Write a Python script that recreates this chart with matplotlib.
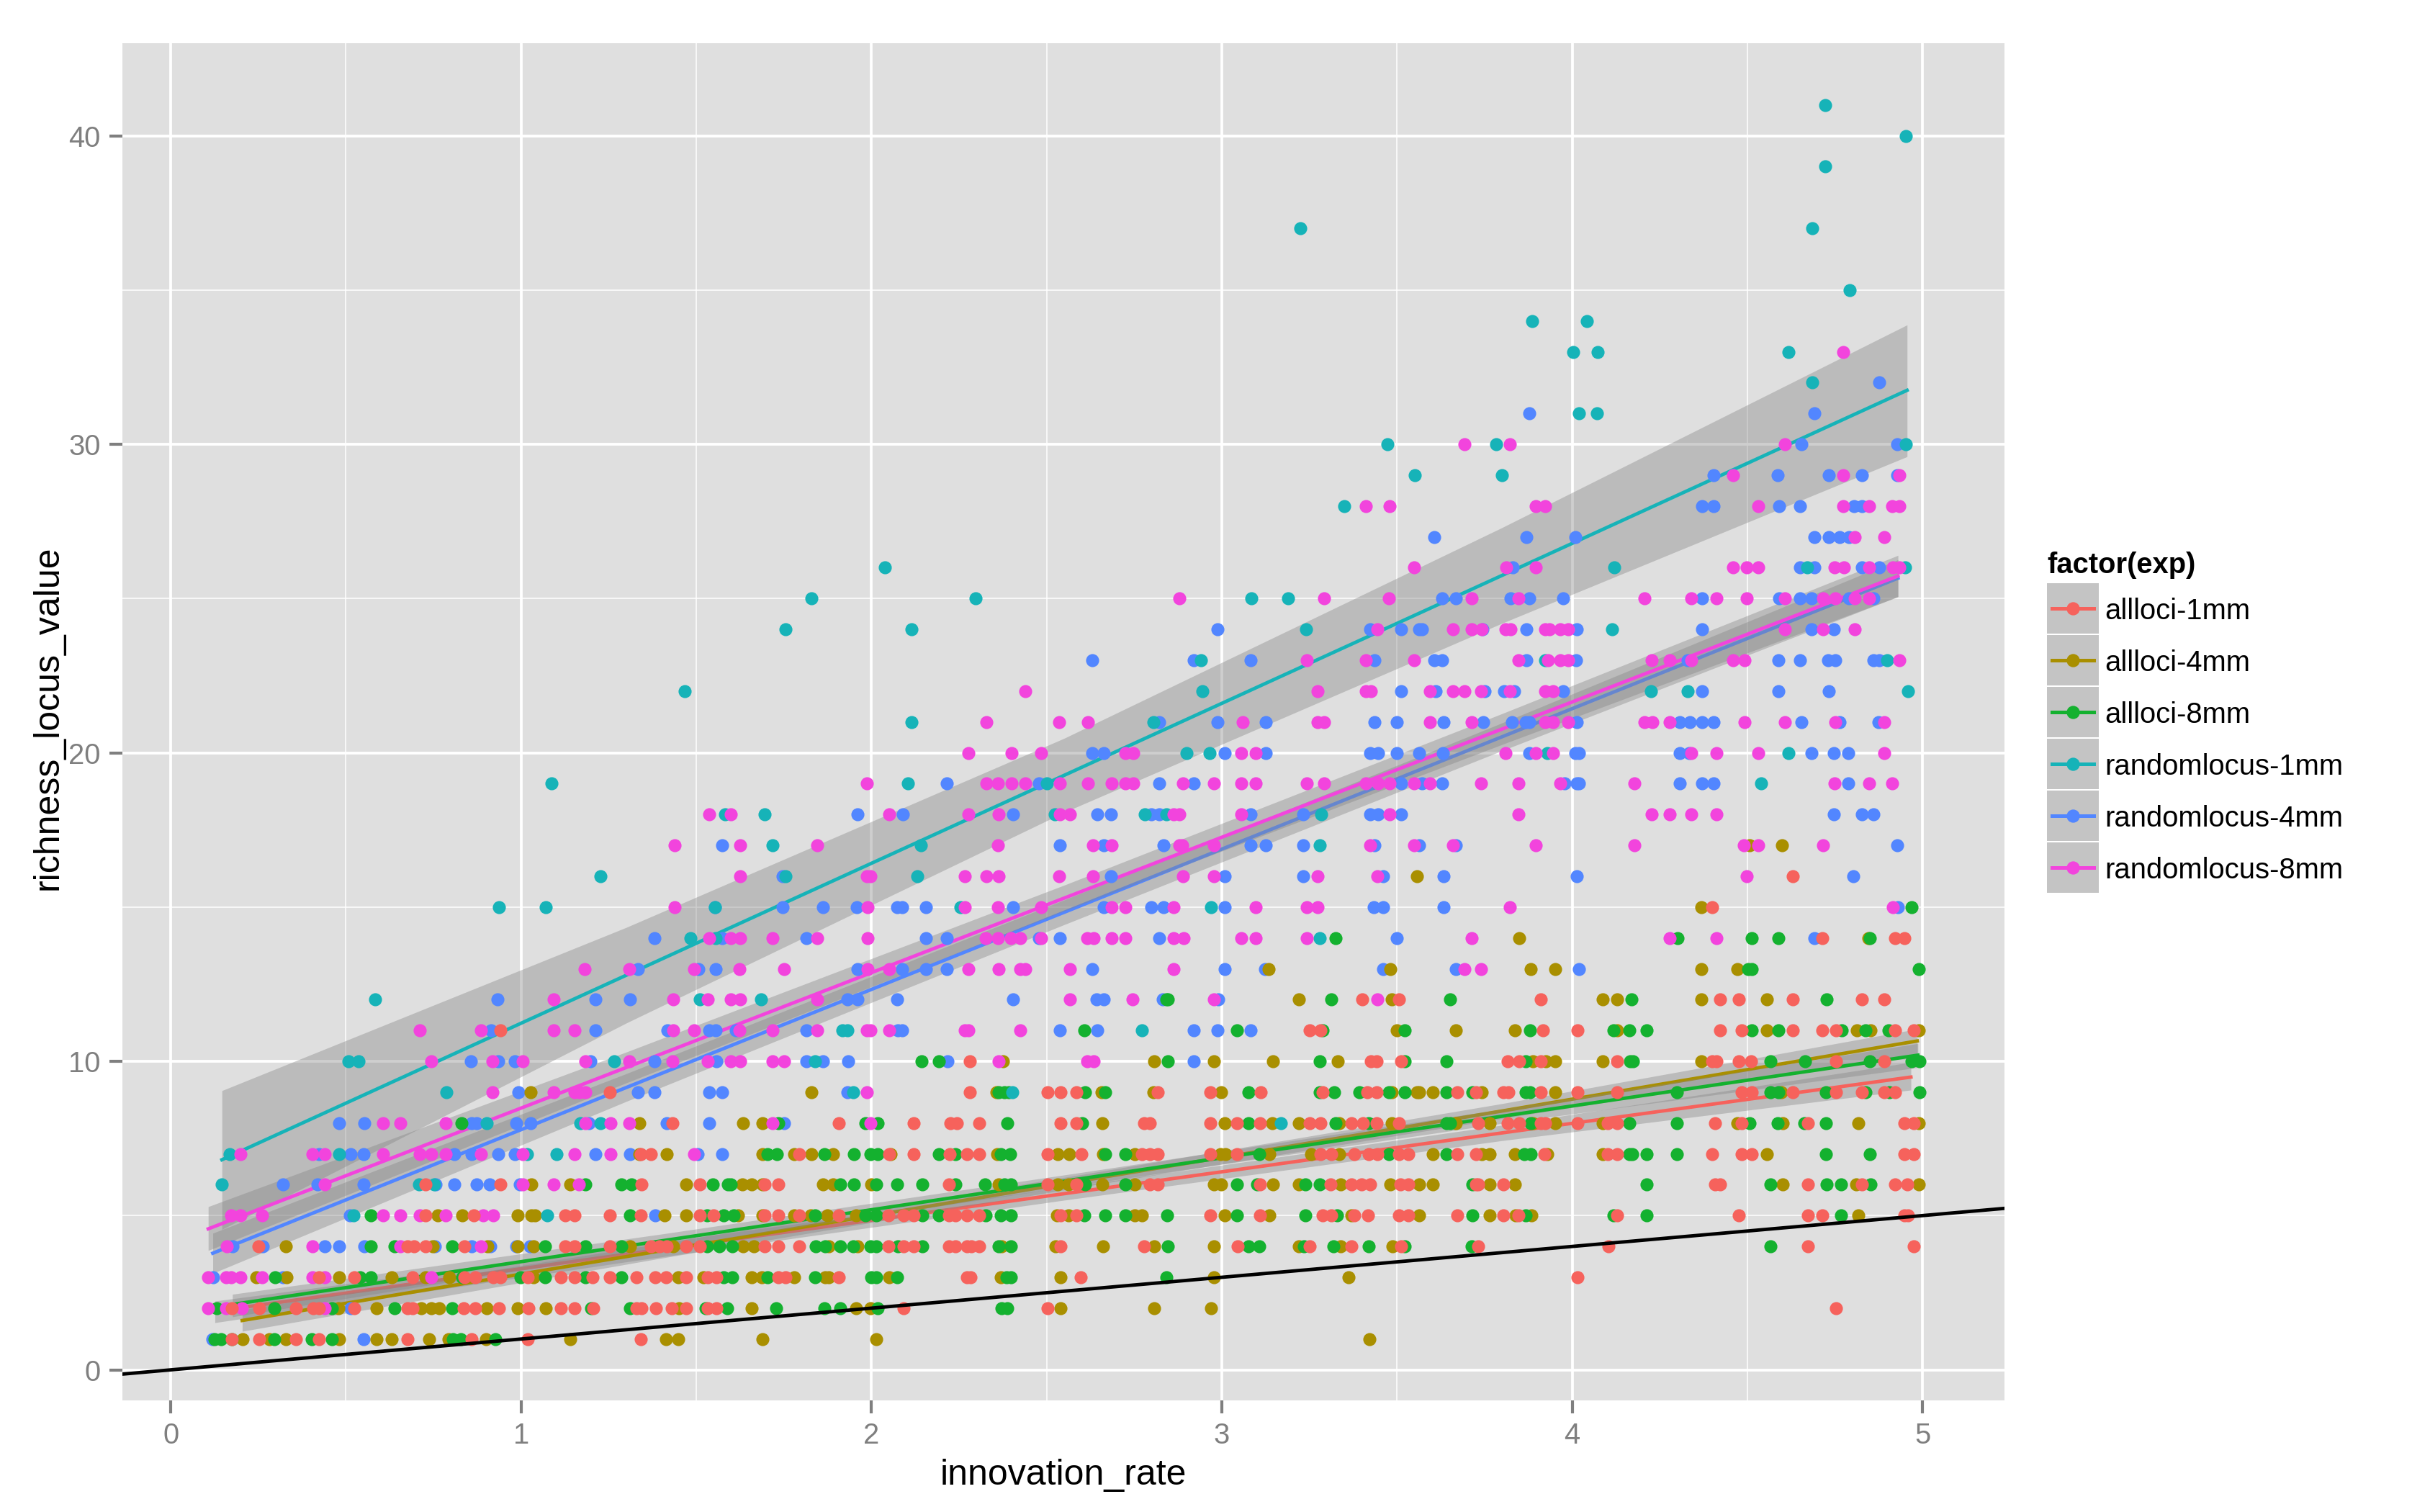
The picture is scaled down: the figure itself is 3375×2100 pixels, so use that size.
import numpy as np
import matplotlib

matplotlib.use("Agg")
import matplotlib.pyplot as plt
from matplotlib.patches import Rectangle
from matplotlib.lines import Line2D

plt.rcParams["font.family"] = ["Liberation Sans", "DejaVu Sans"]

# points: outer index is richness value - 1, inner lists are innovation_rate
allloci_1mm = [
    [.174, .252, .358, .423, .675, .858, 1.020, 1.341],
    [.174, .252, .358, .406, .423, .524, .675, .691, .836, .868, .937, 1.022, 1.114, 1.153, 1.205, 1.330, 1.343, 1.385, 1.431, 1.471, 1.533, 1.557, 2.091, 2.502, 4.754],
    [.423, .524, .691, .839, .869, .921, .940, 1.020, 1.114, 1.153, 1.203, 1.253, 1.330, 1.383, 1.413, 1.471, 1.533, 1.557, 1.734, 1.754, 1.907, 2.273, 2.282, 2.598, 4.016],
    [.250, .675, .695, .727, .839, 1.125, 1.153, 1.253, 1.370, 1.396, 1.415, 1.471, 1.510, 1.695, 1.734, 1.793, 2.049, 2.091, 2.120, 2.222, 2.240, 2.273, 2.285, 2.308, 2.540, 2.778, 3.046, 3.250, 3.371, 3.512, 3.731, 4.103, 4.673, 4.976],
    [.727, .865, 1.125, 1.153, 1.253, 1.341, 1.510, 1.550, 1.695, 1.734, 1.793, 1.907, 2.049, 2.091, 2.120, 2.222, 2.240, 2.273, 2.308, 2.540, 2.586, 2.967, 3.109, 3.287, 3.313, 3.379, 3.418, 3.505, 3.533, 3.672, 3.804, 3.846, 4.129, 4.476, 4.673, 4.714, 4.948, 4.958],
    [.727, .940, 1.343, 1.510, 1.695, 1.734, 2.222, 2.502, 2.586, 2.794, 2.818, 3.110, 3.311, 3.371, 3.399, 3.423, 3.509, 3.533, 3.726, 3.731, 3.804, 4.408, 4.423, 4.673, 4.827, 4.921, 4.956],
    [1.341, 1.370, 1.793, 2.051, 2.120, 2.224, 2.273, 2.308, 2.502, 2.600, 2.773, 2.794, 2.818, 2.967, 3.044, 3.282, 3.313, 3.379, 3.420, 3.444, 3.505, 3.533, 3.672, 3.726, 3.920, 4.101, 4.129, 4.400, 4.484, 4.512, 4.948, 4.976],
    [1.433, 1.907, 2.120, 2.225, 2.243, 2.308, 2.540, 2.586, 2.778, 2.794, 2.967, 3.044, 3.110, 3.250, 3.282, 3.371, 3.402, 3.441, 3.505, 3.731, 3.815, 3.848, 3.911, 3.922, 4.016, 4.101, 4.129, 4.408, 4.484, 4.673, 4.948, 4.976],
    [1.253, 2.281, 2.502, 2.540, 2.585, 2.818, 2.967, 3.111, 3.287, 3.416, 3.442, 3.672, 3.726, 3.804, 3.818, 3.911, 4.016, 4.129, 4.484, 4.512, 4.630, 4.754, 4.827, 4.891, 4.921],
    [2.281, 3.425, 3.442, 3.512, 3.815, 3.848, 3.911, 4.129, 4.400, 4.411, 4.476, 4.510, 4.754, 4.891],
    [.940, 3.250, 3.282, 3.917, 4.016, 4.423, 4.484, 4.630, 4.714, 4.754, 4.921, 4.976],
    [3.401, 3.505, 3.911, 4.423, 4.476, 4.630, 4.827, 4.891],
    [],
    [4.714, 4.921, 4.948],
    [4.400],
    [4.630],
]
allloci_4mm = [
    [.206, .282, .328, .481, .587, .630, .738, .793, .900, 1.140, 1.414, 1.448, 1.688, 2.013, 3.421],
    [.478, .587, .714, .743, .767, .902, .990, 1.071, 1.451, 1.658, 1.957, 1.998, 2.540, 2.806, 2.969],
    [.245, .330, .481, .630, .727, .796, 1.035, 1.448, 1.520, 1.658, 1.687, 1.780, 1.868, 1.878, 2.051, 2.369, 2.540, 2.977, 3.362],
    [.329, .747, .904, .990, 1.035, 1.311, 1.435, 1.634, 1.664, 1.878, 1.960, 2.371, 2.526, 2.661, 2.806, 2.977, 3.220, 3.339, 3.488],
    [.763, .832, .990, 1.029, 1.039, 1.409, 1.471, 1.619, 1.688, 1.780, 1.826, 1.874, 1.957, 2.530, 2.563, 2.752, 2.773, 3.009, 3.135, 3.371, 3.563, 3.765, 3.838, 3.883, 4.817],
    [1.029, 1.140, 1.471, 1.632, 1.658, 1.688, 1.862, 1.891, 2.000, 2.364, 2.532, 2.563, 2.660, 2.752, 2.977, 2.998, 3.147, 3.219, 3.339, 3.481, 3.563, 3.602, 3.765, 3.836, 4.601, 4.811, 4.990],
    [1.337, 1.415, 1.688, 1.780, 1.828, 1.891, 2.055, 2.359, 2.532, 2.565, 2.661, 2.752, 2.996, 3.011, 3.135, 3.255, 3.336, 3.602, 3.741, 3.765, 3.836, 3.928, 4.088, 4.555],
    [1.337, 1.634, 1.688, 2.659, 3.009, 3.145, 3.219, 3.336, 3.486, 3.668, 3.765, 3.888, 3.951, 4.088, 4.471, 4.601, 4.817, 4.990],
    [1.028, 1.828, 2.356, 2.657, 2.804, 2.998, 3.486, 3.558, 3.563, 3.602, 3.741, 3.951, 4.596],
    [2.376, 2.806, 2.977, 3.147, 3.332, 3.888, 3.925, 3.951, 4.088, 4.368],
    [3.500, 3.667, 3.836, 4.129, 4.555, 4.813, 4.851, 4.990],
    [3.220, 3.486, 4.088, 4.129, 4.368, 4.555],
    [3.133, 3.481, 3.881, 3.951, 4.368, 4.471],
    [3.849, 4.845],
    [4.368],
    [3.558],
    [4.507, 4.599],
]
allloci_8mm = [
    [.125, .144, .174, .295, .402, .461, .806, .828, .927],
    [.131, .295, .461, .638, .803, 1.199, 1.311, 1.527, 1.588, 1.727, 1.865, 1.911, 2.018, 2.372, 2.387],
    [.298, .541, .571, .832, .999, 1.068, 1.183, 1.287, 1.579, 1.603, 1.704, 1.839, 2.000, 2.014, 2.073, 2.385, 2.397, 2.842],
    [.571, .638, .803, 1.068, 1.183, 1.287, 1.531, 1.566, 1.603, 1.841, 1.868, 1.911, 1.947, 1.997, 2.014, 2.075, 2.146, 2.364, 2.397, 2.846, 3.077, 3.108, 3.234, 3.318, 3.419, 3.523, 3.713, 4.567],
    [.571, 1.311, 1.531, 1.579, 1.606, 1.839, 1.983, 2.014, 2.146, 2.193, 2.327, 2.369, 2.397, 2.607, 2.667, 2.724, 2.844, 3.044, 3.238, 3.329, 3.715, 3.867, 4.119, 4.213, 4.767],
    [1.183, 1.287, 1.315, 1.547, 1.590, 1.599, 1.911, 1.949, 2.014, 2.073, 2.146, 2.240, 2.325, 2.380, 2.397, 2.610, 2.724, 3.044, 3.101, 3.238, 3.280, 3.715, 4.213, 4.567, 4.727, 4.767, 4.851],
    [1.704, 1.730, 1.865, 1.949, 1.997, 2.018, 2.193, 2.240, 2.369, 2.395, 2.667, 2.724, 3.108, 3.476, 3.642, 3.864, 3.881, 4.164, 4.171, 4.213, 4.298, 4.725, 4.850],
    [.830, 1.734, 1.983, 2.018, 2.387, 2.602, 3.077, 3.324, 3.420, 3.642, 3.652, 3.881, 4.164, 4.298, 4.507, 4.586, 4.662, 4.725],
    [2.364, 2.380, 2.392, 2.610, 2.667, 3.077, 3.280, 3.320, 3.392, 3.476, 3.523, 3.642, 3.715, 3.867, 3.880, 4.298, 4.567, 4.589, 4.725, 4.838, 4.906, 4.992],
    [2.144, 2.193, 2.846, 3.280, 3.523, 3.642, 3.867, 4.166, 4.174, 4.567, 4.664, 4.850, 4.969, 4.992],
    [2.608, 3.043, 3.288, 3.523, 3.880, 4.119, 4.164, 4.213, 4.512, 4.588, 4.769, 4.838, 4.904],
    [2.841, 2.846, 3.313, 3.652, 4.169, 4.727],
    [4.502, 4.512, 4.990],
    [3.324, 4.300, 4.512, 4.588, 4.850],
    [4.969],
]
randomlocus_1mm = [
    [], [], [], [],
    [.522, 1.075],
    [.145, .708, .751],
    [.168, .481, 1.016, 1.102],
    [.902, 1.169, 1.227, 3.168],
    [.786, 1.947, 2.403],
    [.507, .537, 1.265, 1.839],
    [1.917, 1.931, 2.771],
    [.583, 1.511, 1.684],
    [],
    [1.484, 1.556, 3.280],
    [.937, 1.071, 1.553, 2.254, 2.970],
    [1.227, 1.755, 2.131],
    [1.718, 2.141, 3.280],
    [1.583, 1.696, 2.524, 2.781, 2.841, 3.284],
    [1.086, 2.105, 2.501, 4.539],
    [2.899, 2.965, 3.928, 4.617],
    [2.115, 2.804],
    [1.468, 2.944, 4.225, 4.329, 4.959],
    [2.941, 3.922, 4.900],
    [1.755, 2.115, 3.240, 4.115],
    [1.828, 2.298, 3.084, 3.190],
    [2.039, 4.121, 4.671, 4.951],
    [],
    [3.350],
    [3.550, 3.799],
    [3.472, 3.783, 4.952],
    [4.019, 4.070],
    [4.685],
    [4.004, 4.072, 4.617],
    [3.885, 4.042],
    [4.792],
    [],
    [3.225, 4.685],
    [],
    [4.722],
    [4.952],
    [4.722],
]
randomlocus_4mm = [
    [.118, .550],
    [.514],
    [.121, .321],
    [.177, .263, .440, .481, .553, .754, .858, .913, .987, 1.026],
    [.511, 1.383],
    [.321, .419, .550, .756, .809, .874, .911, .996],
    [.423, .514, .550, .809, .858, .934, .983, 1.212, 1.311, 1.503, 1.573],
    [.481, .553, .858, .874, .986, 1.028, 1.193, 1.415, 1.537, 1.750],
    [.992, 1.333, 1.380, 1.537, 1.573, 1.931],
    [.856, .934, .983, 1.197, 1.380, 1.557, 1.815, 1.861, 1.933, 2.217, 2.920],
    [.915, 1.212, 1.418, 1.536, 1.556, 1.612, 1.815, 2.075, 2.088, 2.537, 2.644, 2.920, 2.988, 3.082],
    [.933, 1.212, 1.311, 1.931, 1.960, 2.073, 2.404, 2.642, 2.663, 2.831, 2.990],
    [1.334, 1.506, 1.556, 1.960, 2.088, 2.155, 2.215, 2.631, 3.009, 3.124, 3.460, 3.668, 4.020],
    [1.380, 1.573, 1.815, 2.155, 2.215, 2.479, 2.537, 2.822, 3.500, 4.691],
    [1.553, 1.747, 1.861, 1.958, 2.073, 2.088, 2.155, 2.405, 2.663, 2.799, 2.833, 3.009, 3.434, 3.460, 3.633, 4.929],
    [1.747, 2.684, 3.009, 3.232, 3.460, 3.633, 4.014, 4.803],
    [1.573, 2.537, 2.663, 2.833, 3.082, 3.126, 3.232, 3.436, 3.563, 3.668, 4.927],
    [1.960, 2.089, 2.404, 2.644, 2.684, 2.799, 2.822, 3.082, 3.232, 3.424, 3.447, 3.512, 4.746, 4.827, 4.859],
    [2.215, 2.479, 2.822, 2.920, 3.512, 3.571, 3.628, 3.979, 4.014, 4.020, 4.308, 4.371, 4.404, 4.788],
    [2.631, 2.663, 3.009, 3.126, 3.424, 3.447, 3.500, 3.563, 3.631, 3.878, 4.009, 4.020, 4.308, 4.334, 4.683, 4.746, 4.788],
    [2.822, 2.988, 3.126, 3.435, 3.500, 3.634, 3.747, 3.828, 3.867, 3.878, 4.014, 4.308, 4.336, 4.371, 4.404, 4.654, 4.764, 4.874],
    [3.512, 3.610, 3.750, 3.806, 3.834, 3.975, 4.371, 4.589, 4.733],
    [2.631, 2.920, 3.082, 3.436, 3.607, 3.628, 3.869, 4.011, 4.329, 4.589, 4.651, 4.731, 4.752, 4.859, 4.876],
    [2.988, 3.424, 3.512, 3.563, 3.571, 3.744, 3.869, 4.014, 4.371, 4.683, 4.746],
    [3.628, 3.668, 3.825, 3.878, 3.975, 4.371, 4.591, 4.651, 4.683, 4.790, 4.861],
    [3.830, 4.651, 4.692, 4.827, 4.876],
    [3.607, 3.869, 4.009, 4.692, 4.733, 4.764, 4.790],
    [4.371, 4.404, 4.591, 4.651, 4.804, 4.827],
    [4.404, 4.586, 4.733, 4.827, 4.927],
    [4.654, 4.927],
    [3.877, 4.692],
    [4.876],
]
randomlocus_8mm = [
    [],
    [.107, .157, .203, .439],
    [.107, .157, .173, .199, .260, .404, .439, .743],
    [.160, .404, .655, .885],
    [.173, .199, .261, .605, .655, .711, .784, .891, .921],
    [.439, 1.005, 1.094, 1.164],
    [.199, .404, .439, .605, .710, .744, .784, .885, 1.005, 1.153, 1.256, 1.493],
    [.605, .655, .784, 1.183, 1.256, 1.308, 1.718, 1.997],
    [.919, 1.094, 1.153, 1.166, 1.183, 1.986],
    [.743, .919, 1.005, 1.183, 1.308, 1.433, 1.533, 1.599, 1.625, 1.718, 1.751, 2.364, 2.616, 2.634],
    [.710, .885, 1.094, 1.153, 1.435, 1.493, 1.623, 1.718, 1.845, 1.986, 1.997, 2.051, 2.266, 2.277, 2.424],
    [1.094, 1.435, 1.533, 1.599, 1.625, 1.845, 2.566, 2.745, 2.977, 3.445],
    [1.182, 1.308, 1.493, 1.623, 1.751, 1.988, 2.051, 2.277, 2.364, 2.424, 2.439, 2.566, 2.862, 3.692, 3.739],
    [1.536, 1.599, 1.625, 1.718, 1.845, 1.988, 2.327, 2.361, 2.398, 2.424, 2.484, 2.616, 2.634, 2.686, 2.724, 2.862, 2.891, 3.056, 3.096, 3.243, 3.713, 4.279, 4.411],
    [1.439, 1.988, 2.267, 2.360, 2.484, 2.686, 2.724, 2.862, 3.096, 3.243, 3.273, 3.822, 4.916],
    [1.625, 1.986, 1.997, 2.267, 2.328, 2.364, 2.535, 2.633, 2.890, 2.977, 3.273, 3.445, 4.499],
    [1.439, 1.625, 1.845, 2.360, 2.633, 2.686, 2.878, 2.888, 2.977, 3.424, 3.549, 3.660, 3.897, 4.177, 4.491, 4.531, 4.717],
    [1.536, 1.599, 2.051, 2.277, 2.364, 2.537, 2.566, 2.862, 2.878, 3.056, 3.478, 3.846, 4.227, 4.279, 4.341, 4.411],
    [1.986, 2.328, 2.360, 2.401, 2.439, 2.537, 2.618, 2.686, 2.724, 2.747, 2.890, 2.977, 3.056, 3.096, 3.243, 3.292, 3.411, 3.447, 3.479, 3.549, 3.594, 3.739, 3.846, 3.965, 4.177, 4.750, 4.848, 4.914],
    [2.277, 2.401, 2.484, 2.724, 2.747, 3.056, 3.096, 3.810, 3.897, 3.946, 4.341, 4.411, 4.531, 4.890],
    [2.328, 2.535, 2.618, 3.059, 3.273, 3.292, 3.594, 3.713, 3.922, 3.946, 3.988, 4.206, 4.229, 4.279, 4.493, 4.607, 4.752, 4.890],
    [2.439, 3.273, 3.411, 3.425, 3.594, 3.660, 3.692, 3.739, 3.823, 3.922, 3.946],
    [3.243, 3.411, 3.549, 3.846, 3.932, 3.965, 3.988, 4.227, 4.279, 4.341, 4.460, 4.493, 4.934],
    [3.445, 3.660, 3.713, 3.741, 3.810, 3.825, 3.922, 3.935, 3.965, 3.988, 4.607, 4.717, 4.806],
    [2.878, 3.291, 3.477, 3.713, 3.846, 4.206, 4.341, 4.411, 4.499, 4.607, 4.717, 4.752, 4.806, 4.848],
    [3.549, 3.811, 3.897, 4.460, 4.499, 4.531, 4.748, 4.775, 4.848, 4.916, 4.934],
    [4.806, 4.890],
    [3.411, 3.479, 3.897, 3.922, 4.531, 4.774, 4.848, 4.913, 4.934],
    [4.460, 4.774, 4.934],
    [3.692, 3.822, 4.607],
    [],
    [],
    [4.774],
]

# smooth fits: x, fit, lower and upper confidence limit
fit_x_1 = [.126, 1.3, 2.55, 3.8, 4.967]
fit_y_1 = [1.9, 3.75, 5.71, 7.68, 9.49]
fit_lo_1 = [1.53, 3.5, 5.5, 7.43, 9.07]
fit_hi_1 = [2.23, 3.99, 5.91, 7.93, 9.97]

fit_x_2 = [.204, 1.4, 2.6, 3.8, 4.985]
fit_y_2 = [1.6, 3.86, 6.13, 8.39, 10.66]
fit_lo_2 = [1.25, 3.62, 5.93, 8.15, 10.25]
fit_hi_2 = [1.95, 4.1, 6.33, 8.63, 11.05]

fit_x_3 = [.176, 1.4, 2.6, 3.8, 4.987]
fit_y_3 = [2.12, 4.18, 6.2, 8.22, 10.2]
fit_lo_3 = [1.72, 3.96, 6.0, 7.99, 9.8]
fit_hi_3 = [2.45, 4.4, 6.4, 8.45, 10.58]

fit_x_4 = [.146, 1.3, 2.55, 3.8, 4.956]
fit_y_4 = [6.81, 12.79, 19.27, 25.75, 31.75]
fit_lo_4 = [4.55, 11.24, 18.07, 24.2, 29.6]
fit_hi_4 = [9.05, 14.34, 20.47, 27.3, 33.87]

fit_x_5 = [.12, 1.3, 2.55, 3.8, 4.93]
fit_y_5 = [3.78, 9.15, 14.83, 20.52, 25.66]
fit_lo_5 = [3.13, 8.7, 14.43, 20.07, 25.06]
fit_hi_5 = [4.43, 9.6, 15.23, 20.97, 26.26]

fit_x_6 = [.107, 1.3, 2.55, 3.8, 4.93]
fit_y_6 = [4.57, 9.8, 15.29, 20.77, 25.73]
fit_lo_6 = [3.87, 9.3, 14.87, 20.27, 25.06]
fit_hi_6 = [5.29, 10.3, 15.71, 21.27, 26.4]

names = ["allloci-1mm", "allloci-4mm", "allloci-8mm",
         "randomlocus-1mm", "randomlocus-4mm", "randomlocus-8mm"]
colors = ["#F6625C", "#A98F00", "#14B12F", "#16B3B8", "#5286FF", "#F244DD"]
points = [allloci_1mm, allloci_4mm, allloci_8mm,
          randomlocus_1mm, randomlocus_4mm, randomlocus_8mm]
fits = [
    (fit_x_1, fit_y_1, fit_lo_1, fit_hi_1),
    (fit_x_2, fit_y_2, fit_lo_2, fit_hi_2),
    (fit_x_3, fit_y_3, fit_lo_3, fit_hi_3),
    (fit_x_4, fit_y_4, fit_lo_4, fit_hi_4),
    (fit_x_5, fit_y_5, fit_lo_5, fit_hi_5),
    (fit_x_6, fit_y_6, fit_lo_6, fit_hi_6),
]
# which series ends up on top where dots overlap
point_order = [4, 1, 2, 3, 5, 0]

GREY_TEXT = "#7F7F7F"
W, H = 3375, 2100


def flatten(levels):
    xs, ys = [], []
    for i, row in enumerate(levels):
        xs.extend(row)
        ys.extend([i + 1] * len(row))
    return np.array(xs), np.array(ys)


def draw_legend(fig):
    over = fig.add_axes([0, 0, 1, 1])
    over.set_xlim(0, W)
    over.set_ylim(H, 0)
    over.axis("off")
    over.text(2843, 785, "factor(exp)", fontsize=9.6, fontweight="bold", va="center", ha="left")
    for i, (name, color) in enumerate(zip(names, colors)):
        top = 810 + i * 72
        over.add_patch(Rectangle((2843, top), 72, 70, facecolor="#C4C4C4", edgecolor="none"))
        mid = top + 35
        over.add_line(Line2D([2850, 2908], [mid, mid], color=color, lw=1.2))
        over.plot([2879], [mid], "o", color=color, ms=4.4, mew=0)
        over.text(2923, mid + 4, name, fontsize=9.6, va="center", ha="left")


def main():
    fig = plt.figure(figsize=(W / 300, H / 300), dpi=300)
    ax = fig.add_axes([170 / W, 1 - 1945 / H, (2784 - 170) / W, (1945 - 60) / H])
    ax.set_facecolor("#DFDFDF")
    ax.set_xlim(-0.138, 5.234)
    ax.set_ylim(-0.99, 43)
    for side in ax.spines.values():
        side.set_visible(False)

    ax.set_xticks([0, 1, 2, 3, 4, 5])
    ax.set_yticks([0, 10, 20, 30, 40])
    ax.set_xticks(np.arange(0.5, 5, 1), minor=True)
    ax.set_yticks(np.arange(5, 40, 10), minor=True)
    ax.grid(True, which="major", color="white", lw=0.9)
    ax.grid(True, which="minor", color="white", lw=0.45, alpha=0.8)
    ax.set_axisbelow(True)
    ax.tick_params(which="major", length=4.25, width=1.0, color=GREY_TEXT,
                   labelcolor=GREY_TEXT, labelsize=9.6, pad=3)
    ax.tick_params(which="minor", length=0)

    ax.set_xlabel("innovation_rate", fontsize=12, labelpad=3)
    ax.set_ylabel("richness_locus_value", fontsize=12, labelpad=1.3, y=0.503)

    for i, (fx, fy, lo, hi) in enumerate(fits):
        ax.fill_between(fx, lo, hi, color="#868686", alpha=0.4, lw=0, zorder=3 + i * 0.1)
        ax.plot(fx, fy, color=colors[i], lw=1.15, zorder=3.05 + i * 0.1)

    for k, i in enumerate(point_order):
        xs, ys = flatten(points[i])
        ax.scatter(xs, ys, s=19, color=colors[i], linewidths=0, zorder=5 + k * 0.1)

    ax.axline((0, 0), slope=1, color="black", lw=1.15, zorder=6)

    draw_legend(fig)
    fig.savefig("out.png", dpi=300, facecolor="white")


if __name__ == "__main__":
    main()
